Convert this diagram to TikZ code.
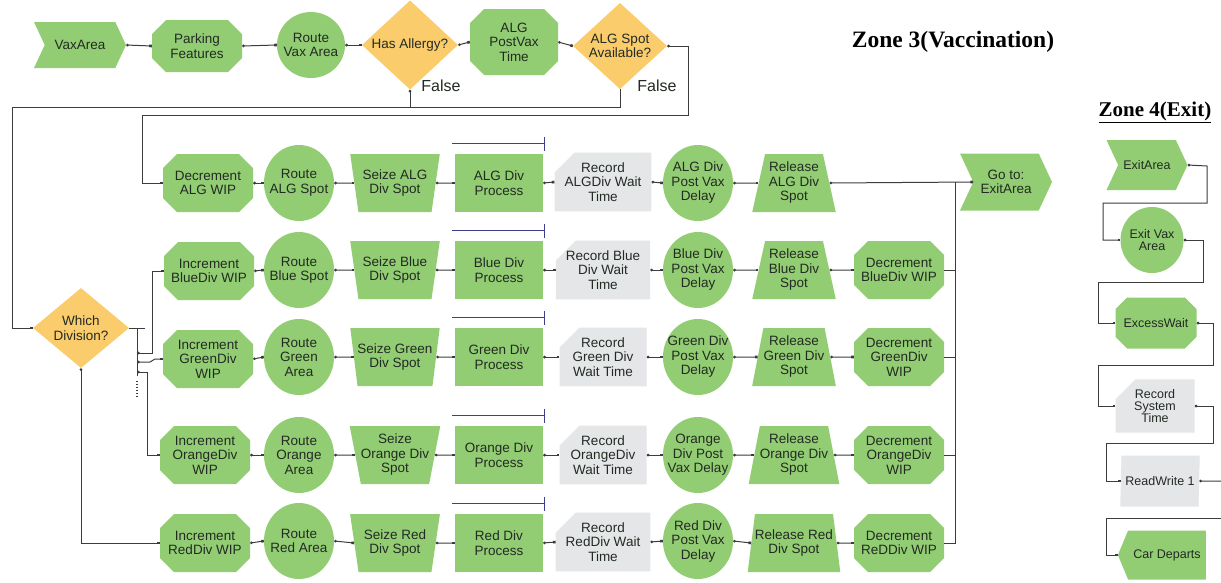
\documentclass[tikz,border=0pt]{standalone}
\usepackage{fontspec}
\setmainfont{Liberation Sans}
\newfontfamily\titlefont{Liberation Serif}
\usetikzlibrary{shapes.geometric,shapes.misc,shapes.symbols,arrows.meta,calc}
\definecolor{grn}{RGB}{146,205,115}
\definecolor{org}{RGB}{250,204,107}
\definecolor{gry}{RGB}{229,230,232}
\definecolor{txt}{RGB}{35,42,35}
\definecolor{lin}{RGB}{60,60,60}
\definecolor{navy}{RGB}{62,62,145}
\tikzset{
 base/.style={inner sep=0pt, align=center, text=txt, font=\fontsize{13.5}{14.5}\selectfont},
 octo/.style={base, chamfered rectangle, chamfered rectangle xsep=7pt, chamfered rectangle ysep=7pt, fill=grn, minimum width=90pt, minimum height=58pt},
 rnd/.style={base, ellipse, inner sep=-14pt, fill=grn, minimum width=70pt, minimum height=76pt},
 seize/.style={base, trapezium, trapezium stretches=true, trapezium left angle=105, trapezium right angle=105, fill=grn, minimum width=90pt, minimum height=58pt},
 release/.style={base, trapezium, trapezium stretches=true, trapezium left angle=75, trapezium right angle=75, fill=grn, minimum width=84pt, minimum height=58pt},
 proc/.style={base, rectangle, fill=grn, minimum width=88pt, minimum height=58pt},
 rec/.style={base, chamfered rectangle, chamfered rectangle corners=north west, chamfered rectangle xsep=10pt, chamfered rectangle ysep=10pt, fill=gry, minimum width=87pt, minimum height=58pt},
 dec/.style={base, diamond, fill=org},
 sig/.style={base, signal, signal to=east, signal from=west, signal pointer angle=130, fill=grn},
 conn/.style={draw=lin, line width=1pt, {Circle[length=2.6pt]}-{Square[length=2.6pt]}},
 wire/.style={draw=lin, line width=1pt},
 res/.style={draw=navy, line width=1.2pt, -{Bar[width=14pt]}},
 small/.style={font=\fontsize{12.5}{12.5}\selectfont},
}
\begin{document}
\begin{tikzpicture}[x=1pt,y=-1pt]
\fill[white] (0,0) rectangle (1221,582);
\useasboundingbox (0,0) rectangle (1221,582);

% titles
\node[font=\titlefont\bfseries\fontsize{23.5}{26}\selectfont, text=black] (z3) at (953,42) {Zone 3(Vaccination)};
\node[font=\titlefont\bfseries\fontsize{21}{24}\selectfont, text=black] (z4) at (1155,112) {\underline{Zone 4(Exit)}};

% top row
\node[sig, minimum width=92pt, minimum height=46pt] (vax) at (80,45) {VaxArea};
\node[octo, minimum width=90pt, minimum height=52pt] (park) at (197,46) {Parking\\Features};
\node[rnd, minimum width=68pt, minimum height=66pt] (routevax) at (311,45) {Route\\Vax Area};
\node[dec, minimum width=96pt, minimum height=84pt] (allergy) at (410,45) {Has Allergy?};
\node[octo, minimum width=88pt, minimum height=66pt] (algpost) at (514,42) {ALG\\PostVax\\Time};
\node[dec, minimum width=94pt, minimum height=78pt] (algspot) at (620,46) {ALG Spot\\Available?};
\node[font=\fontsize{16}{18}\selectfont, text=txt] (f1) at (441,86) {False};
\node[font=\fontsize{16}{18}\selectfont, text=txt] (f2) at (657,86) {False};

\draw[conn] (vax.east) -- (park.west);
\draw[conn] (park.east) -- (routevax.west);
\draw[conn] (routevax.east) -- (allergy.west);
\draw[conn] (allergy.east) -- (algpost.west);
\draw[conn] (algpost.east) -- (algspot.west);

% Which division
\node[dec, minimum width=96pt, minimum height=80pt] (which) at (81,328) {Which\\Division?};

% ALG row
\node[octo] (decalg) at (208,183) {Decrement\\ALG WIP};
\node[rnd] (ralg) at (299,183) {Route\\ALG Spot};
\node[seize] (salg) at (395,183) {Seize ALG\\Div Spot};
\node[proc] (palg) at (499,183) {ALG Div\\Process};
\node[rec] (recalg) at (603,182) {Record\\ALGDiv Wait\\Time};
\node[rnd] (dalg) at (698,183) {ALG Div\\Post Vax\\Delay};
\node[release] (relalg) at (794,183) {Release\\ALG Div\\Spot};
\node[sig, minimum width=92pt, minimum height=57pt] (goto) at (1006,182) {Go to:\\ExitArea};

% Blue row
\node[octo] (incblue) at (209,271) {Increment\\BlueDiv WIP};
\node[rnd] (rblue) at (299,270) {Route\\Blue Spot};
\node[seize] (sblue) at (395,270) {Seize Blue\\Div Spot};
\node[proc] (pblue) at (499,270) {Blue Div\\Process};
\node[rec] (recblue) at (603,270) {Record Blue\\Div Wait\\Time};
\node[rnd] (dblue) at (698,270) {Blue Div\\Post Vax\\Delay};
\node[release] (relblue) at (794,270) {Release\\Blue Div\\Spot};
\node[octo] (decblue) at (899,270) {Decrement\\BlueDiv WIP};

% Green row
\node[octo] (incgreen) at (208,359) {Increment\\GreenDiv\\WIP};
\node[rnd] (rgreen) at (299,357) {Route\\Green\\Area};
\node[seize] (sgreen) at (395,357) {Seize Green\\Div Spot};
\node[proc] (pgreen) at (499,357) {Green Div\\Process};
\node[rec] (recgreen) at (603,357) {Record\\Green Div\\Wait Time};
\node[rnd] (dgreen) at (698,357) {Green Div\\Post Vax\\Delay};
\node[release] (relgreen) at (794,357) {Release\\Green Div\\Spot};
\node[octo] (decgreen) at (899,357) {Decrement\\GreenDiv\\WIP};

% Orange row
\node[octo] (incorange) at (205,455) {Increment\\OrangeDiv\\WIP};
\node[rnd] (rorange) at (299,455) {Route\\Orange\\Area};
\node[seize] (sorange) at (395,455) {Seize\\Orange Div\\Spot};
\node[proc] (porange) at (499,455) {Orange Div\\Process};
\node[rec] (recorange) at (603,455) {Record\\OrangeDiv\\Wait Time};
\node[rnd] (dorange) at (698,455) {Orange\\Div Post\\Vax Delay};
\node[release] (relorange) at (794,455) {Release\\Orange Div\\Spot};
\node[octo] (decorange) at (899,455) {Decrement\\OrangeDiv\\WIP};

% Red row
\node[octo] (incred) at (205,543) {Increment\\RedDiv WIP};
\node[rnd] (rred) at (299,541) {Route\\Red Area};
\node[seize] (sred) at (395,543) {Seize Red\\Div Spot};
\node[proc] (pred) at (499,543) {Red Div\\Process};
\node[rec] (recred) at (603,542) {Record\\RedDiv Wait\\Time};
\node[rnd] (dred) at (698,541) {Red Div\\Post Vax\\Delay};
\node[release] (relred) at (794,543) {Release Red\\Div Spot};
\node[octo] (decred) at (899,543) {Decrement\\ReDDiv WIP};

% row connectors
\foreach \a/\b in {decalg/ralg, ralg/salg, salg/palg, palg/recalg, recalg/dalg, dalg/relalg, relalg/goto,
  incblue/rblue, rblue/sblue, sblue/pblue, pblue/recblue, recblue/dblue, dblue/relblue, relblue/decblue,
  incgreen/rgreen, rgreen/sgreen, sgreen/pgreen, pgreen/recgreen, recgreen/dgreen, dgreen/relgreen, relgreen/decgreen,
  incorange/rorange, rorange/sorange, sorange/porange, porange/recorange, recorange/dorange, dorange/relorange, relorange/decorange,
  incred/rred, rred/sred, sred/pred, pred/recred, recred/dred, dred/relred, relred/decred}
  {\draw[conn] (\a.east) -- (\b.west);}

% resource lines
\foreach \p in {palg,pblue,pgreen,porange,pred}
  {\draw[res] ($(\p.north west)+(-3,-10)$) -- ($(\p.north east)+(2,-10)$);}

% collector to Go to
\draw[wire] (decred.east) -- (955,543) -- (955,182);
\foreach \d in {decblue,decgreen,decorange}
  {\draw[wire] (\d.east) -- (\d.east -| 955,0);}

% False branches
\draw[wire] (algspot.south) |- (410,107);
\draw[conn] (allergy.south) |- (12,107) -- (12,328) -- (which.west);
\draw[conn] (algspot.east) -- (688,46) -- (688,115) -| (142,183) -- (decalg.west);

% Which division fan-out
\draw[wire] (which.east) -- (145,328);
\draw[wire] (137,328) -- (137,376);
\draw[wire, dotted, line width=1.2pt] (137,381) -- (137,398);
\draw[conn] (137,353) -- (152,353) |- (incblue.west);
\draw[conn] (137,362) -- (150,362) -- (155,359) -- (incgreen.west);
\draw[conn] (137,372) -- (147,372) |- (incorange.west);
\draw[conn] (which.south) |- (incred.west);

% Zone 4
\node[sig, small, minimum width=81pt, minimum height=50pt] (exitarea) at (1147,165) {ExitArea};
\node[rnd, small, minimum width=63pt, minimum height=66pt] (exitvax) at (1152,240) {Exit Vax\\Area};
\node[octo, small, minimum width=81pt, minimum height=51pt] (excess) at (1156,323) {ExcessWait};
\node[rec, font=\fontsize{12.5}{12}\selectfont, minimum width=79pt, minimum height=50pt] (recsys) at (1155,406) {Record\\System\\Time};
\node[base, small, trapezium, trapezium stretches=true, trapezium left angle=83, trapezium right angle=97, fill=gry, minimum width=80pt, minimum height=51pt] (rw) at (1160,481) {ReadWrite 1};
\node[base, small, signal, signal to=west, signal pointer angle=135, fill=grn, minimum width=88pt, minimum height=49pt] (cardep) at (1167,555) {Car Departs};
\coordinate (rwout) at (1221,481);
\coordinate (cdin) at (1221,518);
\draw[conn] (exitarea.east) -- (1207,166) -- (1207,203) -- (1103,203) |- (exitvax.west);
\draw[conn] (exitvax.east) -- (1203,240) -- (1203,282) -- (1098,282) |- (excess.west);
\draw[conn] (excess.east) -- (1213,323) -- (1213,365) -- (1098,365) |- (recsys.west);
\draw[conn] (recsys.east) -- (1213,406) -- (1213,443) -- (1106,443) |- (rw.west);
\draw[wire, {Circle[length=2.6pt]}-] (rw.east) -- (rwout);
\draw[wire, -{Square[length=2.6pt]}] (cdin) -- (1106,518) |- (cardep.west);
\end{tikzpicture}
\end{document}
